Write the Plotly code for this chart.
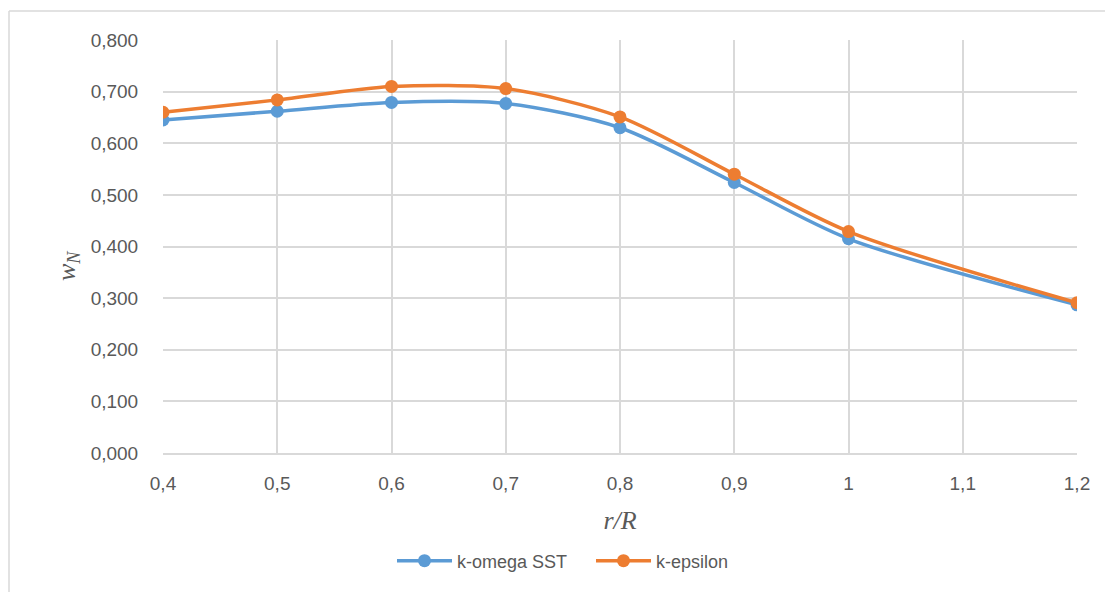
import plotly.graph_objs as go

# r/R positions and w_N values
r_R = [0.4, 0.5, 0.6, 0.7, 0.8, 0.9, 1.0, 1.2]
w_komega_sst = [0.645, 0.662, 0.679, 0.677, 0.630, 0.524, 0.415, 0.287]
w_kepsilon = [0.660, 0.684, 0.710, 0.706, 0.651, 0.540, 0.429, 0.291]

x_ticks = [0.4, 0.5, 0.6, 0.7, 0.8, 0.9, 1.0, 1.1, 1.2]
x_ticktext = ['0,4', '0,5', '0,6', '0,7', '0,8', '0,9', '1', '1,1', '1,2']
y_ticks = [0.0, 0.1, 0.2, 0.3, 0.4, 0.5, 0.6, 0.7, 0.8]

BLUE = '#5B9BD5'
ORANGE = '#ED7D31'
GRID = '#D9D9D9'
TEXT = '#595959'
SERIF = 'Liberation Serif, Times New Roman, serif'

# page body adds an 8px offset, so the figure is laid out 8px smaller
OFF = 8
W, H = 1113 - OFF, 592 - OFF
L, R, T, B = 163 - OFF, 36, 40 - OFF, 139
pw, ph = W - L - R, H - T - B


def px_x(p):
    return (p - OFF - L) / pw


def px_y(p):
    return (H - B - (p - OFF)) / ph


fig = go.Figure()
fig.add_trace(go.Scatter(
    x=r_R, y=w_komega_sst, name='k-omega SST',
    mode='lines+markers',
    line=dict(color=BLUE, width=3.5, shape='spline', smoothing=0.8),
    marker=dict(color=BLUE, size=13),
))
fig.add_trace(go.Scatter(
    x=r_R, y=w_kepsilon, name='k-epsilon',
    mode='lines+markers',
    line=dict(color=ORANGE, width=3.5, shape='spline', smoothing=0.8),
    marker=dict(color=ORANGE, size=13),
))

fig.update_layout(
    width=W, height=H,
    margin=dict(l=L, r=R, t=T, b=B),
    plot_bgcolor='white', paper_bgcolor='white',
    separators=',.',
    font=dict(family='Liberation Sans, Arial, sans-serif', size=19, color=TEXT),
    showlegend=True,
    legend=dict(orientation='h', x=px_x(591), xanchor='center',
                y=px_y(561), yanchor='middle',
                font=dict(size=18, color=TEXT), itemwidth=55,
                entrywidth=129),
    shapes=[
        dict(type='line', xref='paper', yref='paper',
             x0=px_x(9), x1=px_x(1130), y0=px_y(11), y1=px_y(11),
             line=dict(color=GRID, width=1.5)),
        dict(type='line', xref='paper', yref='paper',
             x0=px_x(9), x1=px_x(9), y0=px_y(11), y1=px_y(610),
             line=dict(color=GRID, width=1.5)),
    ],
    annotations=[
        dict(text='<i>w</i><sub><i>N</i></sub>', textangle=-90,
             xref='paper', yref='paper', x=px_x(68), y=px_y(266),
             xanchor='center', yanchor='middle', showarrow=False,
             font=dict(family=SERIF, size=26, color=TEXT)),
    ],
)

fig.update_xaxes(
    range=[0.4, 1.2], tickvals=x_ticks, ticktext=x_ticktext,
    showgrid=True, gridcolor=GRID, gridwidth=1.5,
    showline=True, linecolor=GRID, linewidth=1.5, mirror=False,
    zeroline=False,
    ticks='outside', ticklen=12, tickcolor='rgba(0,0,0,0)',
    title=dict(text='<i>r/R</i>', standoff=18,
               font=dict(family=SERIF, size=26, color=TEXT)),
)
fig.update_yaxes(
    range=[0, 0.8], tickvals=y_ticks, tickformat='.3f',
    showgrid=True, gridcolor=GRID, gridwidth=1.5,
    showline=False, zeroline=False,
    ticks='outside', ticklen=20, tickcolor='rgba(0,0,0,0)',
)

fig.write_html("out.html")
